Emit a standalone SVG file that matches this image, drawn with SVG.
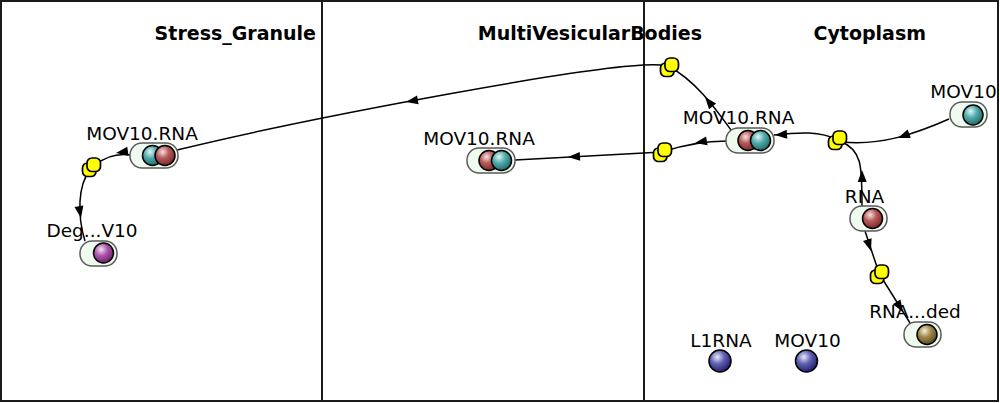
<svg xmlns="http://www.w3.org/2000/svg" xmlns:xlink="http://www.w3.org/1999/xlink" width="1000" height="403" viewBox="0 0 1000 403">
<style>
.comp{fill:#ffffff;stroke:#1a1a1a;stroke-width:2}
.title{font-family:"DejaVu Sans",sans-serif;font-weight:bold;font-size:19px;fill:#000;text-anchor:end}
.lbl{font-family:"DejaVu Sans",sans-serif;font-size:18.5px;fill:#000;text-anchor:middle}
.pill{fill:#effbee;stroke:#5a5a5a;stroke-width:1.5}
.mol{stroke:#000;stroke-width:1.5}
.edge{fill:none;stroke:#000;stroke-width:1.5}
.ahd{fill:#000;stroke:none}
.proc{fill:#ffff00;stroke:#000;stroke-width:1.7}
</style>
<defs>
<radialGradient id="gRed" cx="0.38" cy="0.32" r="0.7"><stop offset="0" stop-color="#f6e2e2"/><stop offset="0.45" stop-color="#b85a5a"/><stop offset="1" stop-color="#7a2626"/></radialGradient>
<radialGradient id="gTeal" cx="0.38" cy="0.32" r="0.7"><stop offset="0" stop-color="#e2f6f6"/><stop offset="0.45" stop-color="#52acac"/><stop offset="1" stop-color="#1f6a6a"/></radialGradient>
<radialGradient id="gPur" cx="0.38" cy="0.32" r="0.7"><stop offset="0" stop-color="#f6e2f6"/><stop offset="0.45" stop-color="#b058b0"/><stop offset="1" stop-color="#6a1f6a"/></radialGradient>
<radialGradient id="gOl" cx="0.38" cy="0.32" r="0.7"><stop offset="0" stop-color="#f6f0dc"/><stop offset="0.45" stop-color="#a08a4c"/><stop offset="1" stop-color="#5a4a1c"/></radialGradient>
<radialGradient id="gBlue" cx="0.38" cy="0.32" r="0.7"><stop offset="0" stop-color="#eaeaf8"/><stop offset="0.45" stop-color="#6262b4"/><stop offset="1" stop-color="#1e1e6a"/></radialGradient>
<path id="ah" d="M0,0 L-12,-4.5 L-12,4.5 Z"/>
<g id="procShape">
<rect class="proc" x="-4.5" y="5" width="13.5" height="13.5" rx="5"/>
<rect class="proc" x="0" y="0" width="13.5" height="13.5" rx="5"/>
</g>
</defs>

<g id="compartments">
<rect class="comp" x="1" y="1" width="321" height="400"/>
<rect class="comp" x="322" y="1" width="322" height="400"/>
<rect class="comp" x="644" y="1" width="354" height="400"/>
<text class="title" x="316" y="40">Stress_Granule</text>
<text class="title" x="702" y="40">MultiVesicularBodies</text>
<text class="title" x="926" y="40">Cytoplasm</text>
</g>

<g id="connectors">
<path class="edge" d="M949,119 C915,134 880,146 842,142"/>
<use href="#ah" class="ahd" transform="translate(898,138) rotate(159)"/>
<path class="edge" d="M862,206 C862,165 862,150 840,141"/>
<use href="#ah" class="ahd" transform="translate(862,170) rotate(-91)"/>
<path class="edge" d="M838,140 C820,131 800,132 774,135"/>
<use href="#ah" class="ahd" transform="translate(775,135) rotate(176)"/>
<path class="edge" d="M727,141 C705,141 680,146 662,152"/>
<use href="#ah" class="ahd" transform="translate(695,143) rotate(170)"/>
<path class="edge" d="M662,152 L515,160"/>
<use href="#ah" class="ahd" transform="translate(568,157) rotate(177)"/>
<path class="edge" d="M731,130 C715,108 695,80 668,66"/>
<use href="#ah" class="ahd" transform="translate(705,97) rotate(-129)"/>
<path class="edge" d="M666,66 C630,56 300,120 177,150"/>
<use href="#ah" class="ahd" transform="translate(406,102) rotate(170)"/>
<path class="edge" d="M131,155 C118,153 105,157 95,165"/>
<use href="#ah" class="ahd" transform="translate(116,153) rotate(172)"/>
<path class="edge" d="M90,170 C78,185 77,215 85,241"/>
<use href="#ah" class="ahd" transform="translate(81,218) rotate(80)"/>
<path class="edge" d="M865,231 L878,270"/>
<use href="#ah" class="ahd" transform="translate(871,251) rotate(72)"/>
<path class="edge" d="M880,275 L910,323"/>
<use href="#ah" class="ahd" transform="translate(903,312) rotate(58)"/>
</g>

<g id="processes">
<use id="p_assoc" href="#procShape" transform="translate(833,131)"/>
<use id="p_toMVB" href="#procShape" transform="translate(658,143)"/>
<use id="p_toSG" href="#procShape" transform="translate(665,58)"/>
<use id="p_deg" href="#procShape" transform="translate(87,158)"/>
<use id="p_rna" href="#procShape" transform="translate(875,265)"/>
</g>

<g id="n_mov10_cyto">
<rect class="pill" x="950" y="102" width="37" height="25" rx="12"/>
<circle class="mol" cx="973" cy="115" r="10" fill="url(#gTeal)"/>
<text class="lbl" x="963.5" y="98">MOV10</text>
</g>
<g id="n_mov10rna_cyto">
<rect class="pill" x="726" y="128" width="48" height="25" rx="12"/>
<circle class="mol" cx="748" cy="140.5" r="10" fill="url(#gRed)"/>
<circle class="mol" cx="760.5" cy="140.5" r="10" fill="url(#gTeal)"/>
<text class="lbl" x="738.5" y="124">MOV10.RNA</text>
</g>
<g id="n_rna_cyto">
<rect class="pill" x="850" y="206" width="37" height="25" rx="12"/>
<circle class="mol" cx="872.5" cy="218.5" r="10" fill="url(#gRed)"/>
<text class="lbl" x="864.5" y="203">RNA</text>
</g>
<g id="n_rna_degraded">
<rect class="pill" x="904" y="322" width="37" height="25" rx="12"/>
<circle class="mol" cx="927" cy="334.5" r="10" fill="url(#gOl)"/>
<text class="lbl" x="915" y="318">RNA...ded</text>
</g>
<g id="n_l1rna">
<circle class="mol" cx="720" cy="361" r="11" fill="url(#gBlue)"/>
<text class="lbl" x="721" y="347">L1RNA</text>
</g>
<g id="n_mov10_free">
<circle class="mol" cx="806.5" cy="361" r="11" fill="url(#gBlue)"/>
<text class="lbl" x="807.5" y="347">MOV10</text>
</g>
<g id="n_mov10rna_mvb">
<rect class="pill" x="467" y="148" width="48" height="25" rx="12"/>
<circle class="mol" cx="489" cy="160.5" r="10" fill="url(#gRed)"/>
<circle class="mol" cx="501.5" cy="160.5" r="10" fill="url(#gTeal)"/>
<text class="lbl" x="479" y="145">MOV10.RNA</text>
</g>
<g id="n_mov10rna_sg">
<rect class="pill" x="130" y="143" width="48" height="25" rx="12"/>
<circle class="mol" cx="152.5" cy="155.5" r="10" fill="url(#gTeal)"/>
<circle class="mol" cx="165" cy="155.5" r="10" fill="url(#gRed)"/>
<text class="lbl" x="142" y="140">MOV10.RNA</text>
</g>
<g id="n_degraded_mov10">
<rect class="pill" x="80" y="241" width="37" height="25" rx="12"/>
<circle class="mol" cx="103.5" cy="253" r="10" fill="url(#gPur)"/>
<text class="lbl" x="92" y="237">Deg...V10</text>
</g>
</svg>
